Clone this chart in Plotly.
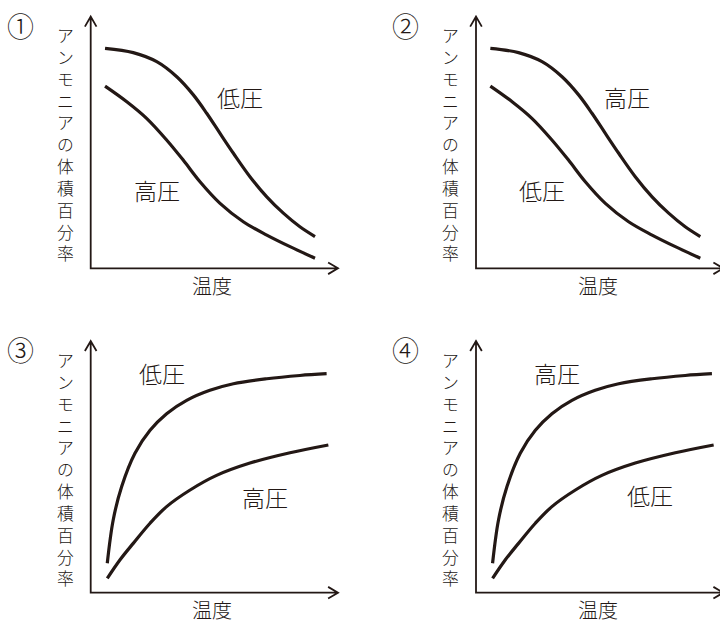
import plotly.graph_objects as go

# ---------------- data (arbitrary units 0..10) ----------------
fall_upper_x = [0.58, 1.72, 2.67, 3.48, 4.15, 4.69, 5.23, 5.77, 6.44, 7.12, 7.79, 8.46, 9.07]
fall_upper_y = [8.74, 8.57, 8.21, 7.61, 6.89, 6.16, 5.36, 4.57, 3.64, 2.84, 2.19, 1.65, 1.26]
fall_lower_x = [0.58, 1.46, 2.26, 3.07, 3.74, 4.42, 5.23, 6.17, 7.12, 8.06, 9.07]
fall_lower_y = [7.24, 6.62, 5.96, 5.10, 4.30, 3.44, 2.58, 1.85, 1.32, 0.86, 0.40]

rise_upper_x = [0.67, 0.91, 1.25, 1.79, 2.40, 3.07, 3.88, 4.82, 5.77, 7.12, 8.46, 9.54]
rise_upper_y = [1.17, 2.89, 4.21, 5.54, 6.45, 7.11, 7.64, 8.04, 8.30, 8.50, 8.63, 8.70]
rise_lower_x = [0.67, 1.18, 1.72, 2.40, 3.07, 4.02, 5.09, 6.44, 8.06, 9.61]
rise_lower_y = [0.57, 1.30, 1.96, 2.76, 3.42, 4.08, 4.66, 5.15, 5.56, 5.87]

panel_numbers = ["①", "②", "③", "④"]
upper_labels = ["低圧", "高圧", "低圧", "高圧"]
lower_labels = ["高圧", "低圧", "高圧", "低圧"]
y_title = "アンモニアの体積百分率"
x_title = "温度"

# ---------------- layout geometry (pixels) ----------------
W, H = 720, 626
UX, UY = 24.73, 25.17          # pixels per data unit
origins = [(90.7, 268.3), (476.0, 268.3), (90.7, 592.7), (476.0, 592.7)]
upper_lbl_pos = [(6.04, 6.80), (6.11, 6.80), (2.88, 8.73), (3.28, 8.73)]
lower_lbl_pos = [(2.68, 3.11), (2.67, 3.11), (7.05, 3.80), (7.04, 3.88)]
INK = "#231815"
FONT = "Noto Sans CJK JP"

curves = [
    (fall_upper_x, fall_upper_y, fall_lower_x, fall_lower_y),
    (fall_upper_x, fall_upper_y, fall_lower_x, fall_lower_y),
    (rise_upper_x, rise_upper_y, rise_lower_x, rise_lower_y),
    (rise_upper_x, rise_upper_y, rise_lower_x, rise_lower_y),
]

fig = go.Figure()
layout = dict(width=W, height=H, margin=dict(l=0, r=0, t=0, b=0),
              paper_bgcolor="white", plot_bgcolor="rgba(0,0,0,0)",
              showlegend=False, font=dict(family=FONT, color=INK))
shapes, annotations = [], []

def px2paper(px, py):
    return px / W, 1 - py / H

for i in range(4):
    ox, oy = origins[i]
    xmin, ymin, ymax = -0.6, -0.6, 10.6
    xmax = min(10.6, (W - ox) / UX)
    xd = [(ox + xmin * UX) / W, (ox + xmax * UX) / W]
    yd = [1 - (oy - ymin * UY) / H, 1 - (oy - ymax * UY) / H]
    sfx = "" if i == 0 else str(i + 1)
    xa, ya = "x" + sfx, "y" + sfx
    axis_common = dict(showgrid=False, zeroline=False, showticklabels=False,
                       showline=False, ticks="", fixedrange=True)
    layout["xaxis" + sfx] = dict(domain=xd, range=[xmin, xmax], anchor=ya, **axis_common)
    layout["yaxis" + sfx] = dict(domain=yd, range=[ymin, ymax], anchor=xa, **axis_common)

    ux_, uy_, lx_, ly_ = curves[i]
    for cx, cy in ((ux_, uy_), (lx_, ly_)):
        fig.add_trace(go.Scatter(x=cx, y=cy, mode="lines", xaxis=xa, yaxis=ya,
                                 line=dict(color=INK, width=3.2, shape="spline", smoothing=1),
                                 hoverinfo="skip"))

    # axes with open arrow heads
    ah, aw = 0.40, 0.235
    path = (f"M0,10 L0,0 L10,0 "
            f"M{-aw},{10 - ah} L0,10 L{aw},{10 - ah} "
            f"M{10 - 0.4},{0.235 * UX / UY} L10,0 L{10 - 0.4},{-0.235 * UX / UY}")
    shapes.append(dict(type="path", xref=xa, yref=ya, path=path,
                       line=dict(color=INK, width=1.8)))

    # curve labels
    for (lx, ly), txt in ((upper_lbl_pos[i], upper_labels[i]), (lower_lbl_pos[i], lower_labels[i])):
        annotations.append(dict(x=lx, y=ly, xref=xa, yref=ya, text=txt, showarrow=False,
                                font=dict(size=23, family=FONT, color=INK, weight=300),
                                xanchor="center", yanchor="middle"))

    # panel number
    nx, ny = px2paper(ox - 70.7, oy - 243.3)
    annotations.append(dict(x=nx, y=ny, xref="paper", yref="paper", text=panel_numbers[i],
                            showarrow=False, font=dict(size=27, family=FONT, color=INK, weight=300),
                            xanchor="center", yanchor="middle"))

    # x title
    tx, ty = px2paper(ox + 121.5, oy + 17.0)
    annotations.append(dict(x=tx, y=ty, xref="paper", yref="paper", text=x_title,
                            showarrow=False, font=dict(size=20, family=FONT, color=INK, weight=300),
                            xanchor="center", yanchor="middle"))

    # vertical y title, one upright character per row
    cx_, cy_ = px2paper(ox - 25.7, oy - 236.3 + 5 * 22.5)
    annotations.append(dict(x=cx_, y=cy_, xref="paper", yref="paper",
                            text="<br>".join(y_title), showarrow=False,
                            font=dict(size=16.8, family=FONT, color=INK, weight=300),
                            xanchor="center", yanchor="middle"))

layout["shapes"] = shapes
layout["annotations"] = annotations
fig.update_layout(**layout)
fig.write_html("out.html", config={"displayModeBar": False},
               post_script="document.body.style.margin='0';")
